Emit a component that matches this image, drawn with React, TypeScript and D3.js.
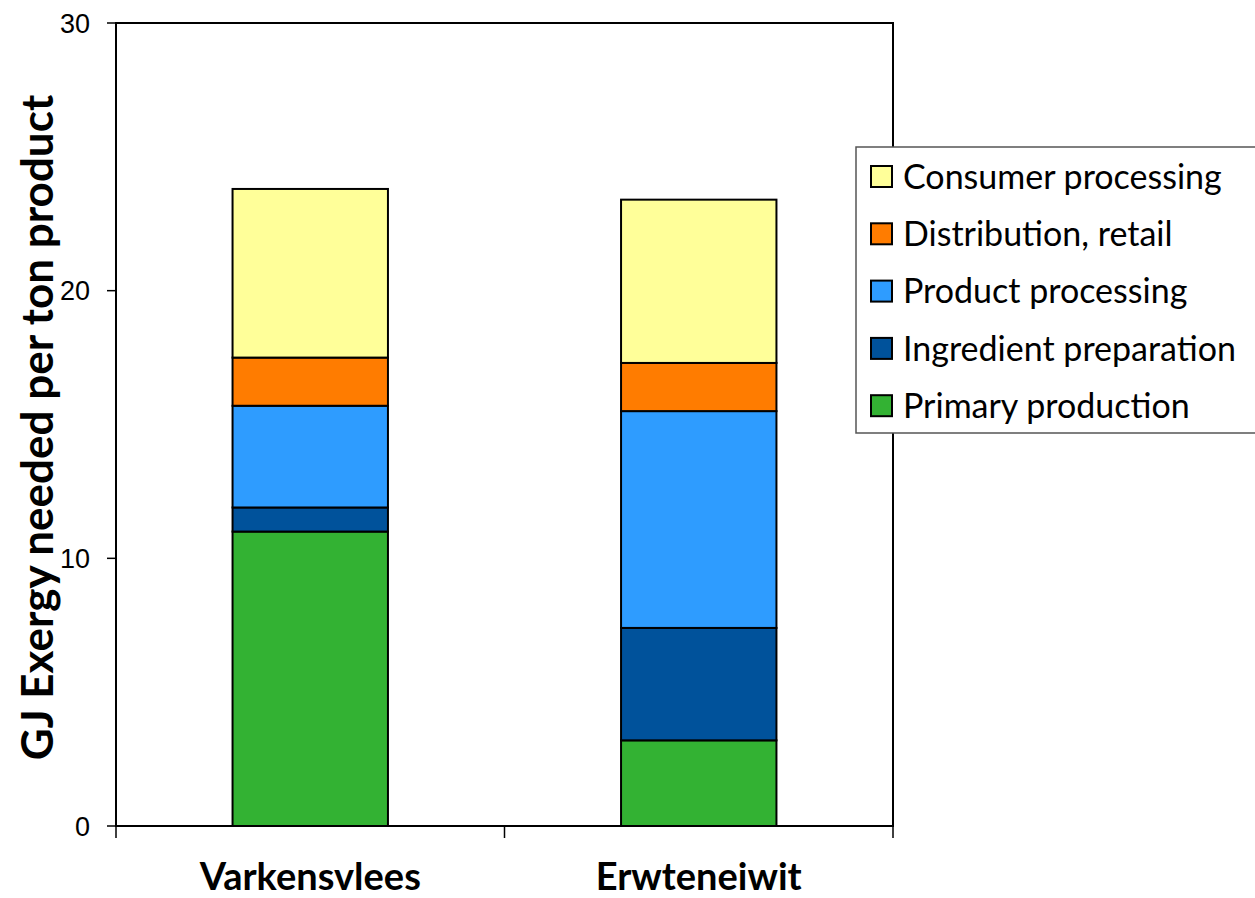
import { useEffect, useRef } from "react"
import * as d3 from "d3"

const categories = ["Varkensvlees", "Erwteneiwit"]
const seriesNames = [
  "Primary production",
  "Ingredient preparation",
  "Product processing",
  "Distribution, retail",
  "Consumer processing",
]
const seriesColors = ["#33B233", "#00529B", "#2E9CFF", "#FF7C00", "#FFFF99"]
const primaryProduction = [11.0, 3.2]
const ingredientPreparation = [0.9, 4.2]
const productProcessing = [3.8, 8.1]
const distributionRetail = [1.8, 1.8]
const consumerProcessing = [6.3, 6.1]
const yTicks = [0, 10, 20, 30]

export default function App() {
  const svgRef = useRef<SVGSVGElement>(null)

  useEffect(() => {
    if (!svgRef.current) return
    const svg = d3.select(svgRef.current)
    svg.selectAll("*").remove()

    const width = 1255
    const height = 898
    const margin = { left: 116, top: 23, right: 362, bottom: 72 }
    const innerW = width - margin.left - margin.right
    const innerH = height - margin.top - margin.bottom

    const values = [primaryProduction, ingredientPreparation, productProcessing, distributionRetail, consumerProcessing]
    const rows = categories.map((cat, i) => {
      const row: any = { cat }
      seriesNames.forEach((s, j) => (row[s] = values[j][i]))
      return row
    })
    const stacked = d3.stack<any>().keys(seriesNames)(rows)

    const x = d3.scaleBand().domain(categories).range([0, innerW]).paddingInner(0.6).paddingOuter(0.3)
    const y = d3.scaleLinear().domain([0, 30]).range([innerH, 0])

    const g = svg.append("g").attr("transform", `translate(${margin.left},${margin.top})`)

    // bars
    stacked.forEach((layer, j) => {
      g.selectAll(null)
        .data(layer)
        .join("rect")
        .attr("x", (d: any) => x(d.data.cat)!)
        .attr("width", x.bandwidth())
        .attr("y", (d) => y(d[1]))
        .attr("height", (d) => y(d[0]) - y(d[1]))
        .attr("fill", seriesColors[j])
        .attr("stroke", "#000")
        .attr("stroke-width", 2)
    })

    // frame
    g.append("rect")
      .attr("x", 0)
      .attr("y", 0)
      .attr("width", innerW)
      .attr("height", innerH)
      .attr("fill", "none")
      .attr("stroke", "#000")
      .attr("stroke-width", 2)

    // y axis ticks
    yTicks.forEach((t) => {
      g.append("line")
        .attr("x1", -9)
        .attr("x2", 0)
        .attr("y1", y(t))
        .attr("y2", y(t))
        .attr("stroke", "#000")
        .attr("stroke-width", 1.5)
      g.append("text")
        .attr("x", -26)
        .attr("y", y(t))
        .attr("dy", "0.36em")
        .attr("text-anchor", "end")
        .attr("font-family", "Liberation Sans, Arial, sans-serif")
        .attr("font-size", 27)
        .attr("fill", "#000")
        .text(t)
    })

    // x axis ticks at category boundaries
    const xTickPos = [0, innerW / 2, innerW]
    xTickPos.forEach((p) => {
      g.append("line")
        .attr("x1", p)
        .attr("x2", p)
        .attr("y1", innerH)
        .attr("y2", innerH + 12)
        .attr("stroke", "#000")
        .attr("stroke-width", 1.5)
    })

    categories.forEach((c) => {
      g.append("text")
        .attr("x", x(c)! + x.bandwidth() / 2)
        .attr("y", innerH + 64)
        .attr("text-anchor", "middle")
        .attr("font-family", "Lato, Carlito, Calibri, sans-serif")
        .attr("font-weight", "bold")
        .attr("font-size", 38)
        .attr("fill", "#000")
        .text(c)
    })

    // y axis title
    svg.append("text")
      .attr("transform", `translate(53, ${margin.top + innerH / 2 + 3}) rotate(-90)`)
      .attr("text-anchor", "middle")
      .attr("font-family", "Lato, Carlito, Calibri, sans-serif")
      .attr("font-weight", "bold")
      .attr("font-size", 44)
      .attr("fill", "#000")
      .text("GJ Exergy needed per ton product")

    // legend
    const legend = svg.append("g").attr("transform", "translate(856, 147)")
    legend.append("rect")
      .attr("x", 0)
      .attr("y", 0)
      .attr("width", 410)
      .attr("height", 286)
      .attr("fill", "#fff")
      .attr("stroke", "#555")
      .attr("stroke-width", 1.5)

    const legendOrder = seriesNames.map((s, i) => ({ s, c: seriesColors[i] })).reverse()
    legendOrder.forEach((d, i) => {
      const cy = 29.5 + i * 57.3
      legend.append("rect")
        .attr("x", 15)
        .attr("y", cy - 10.5)
        .attr("width", 21)
        .attr("height", 21)
        .attr("fill", d.c)
        .attr("stroke", "#000")
        .attr("stroke-width", 2)
      legend.append("text")
        .attr("x", 47)
        .attr("y", cy)
        .attr("dy", "0.36em")
        .attr("font-family", "Lato, Carlito, Calibri, sans-serif")
        .attr("font-size", 34)
        .attr("fill", "#000")
        .text(d.s)
    })
  }, [])

  return (
    <svg
      ref={svgRef}
      width={1255}
      height={898}
      style={{ position: "absolute", left: 0, top: 0, background: "#fff" }}
    />
  )
}
